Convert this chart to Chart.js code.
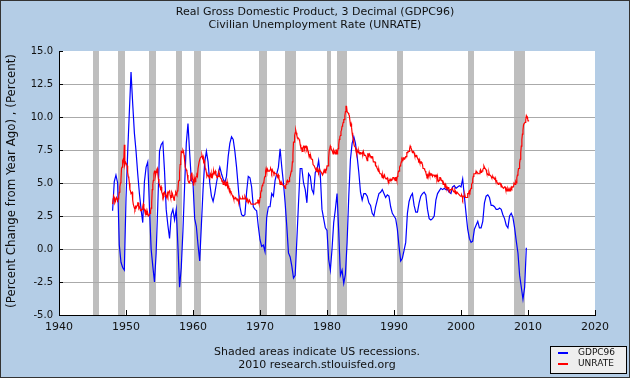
<!DOCTYPE html>
<html lang="en">
<head>
    <meta charset="UTF-8">
    <title>Real GDP and Civilian Unemployment Rate</title>
    <script src="https://cdn.jsdelivr.net/npm/chart.js"></script>
    <style>
        html, body { margin: 0; padding: 0; background: #b4cde6; }
        #wrap { width: 630px; height: 378px; }
    </style>
</head>
<body>
<div id="wrap"><canvas id="chart" width="630" height="378"></canvas></div>
<script>
// GDPC96, percent change from year ago, quarterly from 1948 Q1
const gdpStart = 1948;
const gdpGrowth = [
    2.9, 5.1, 5.6, 5.0,   0.3, -1.0, -1.4, -1.6,   3.8, 7.3, 10.4, 13.4,   11.0, 8.8, 7.4, 5.7,
    4.2, 3.0, 2.0, 5.1,   6.2, 6.6, 3.2, 0.0,   -1.3, -2.5, -0.3, 3.4,   7.4, 7.9, 8.1, 5.9,
    3.0, 1.8, 0.8, 2.6,   3.0, 2.2, 3.0, 0.2,   -2.9, -1.4, 1.4, 4.8,   8.0, 9.5, 7.3, 5.2,
    5.0, 2.3, 1.7, 0.3,   -0.9, 1.8, 4.5, 6.6,   7.4, 6.6, 5.0, 4.0,   3.6, 4.2, 5.0, 5.7,
    6.2, 5.7, 5.3, 5.0,   5.5, 7.0, 8.0, 8.5,   8.3, 7.4, 6.2, 4.7,   3.2, 2.6, 2.5, 2.6,
    4.3, 5.5, 5.4, 4.7,   3.2, 3.0, 2.9, 1.7,   0.7, 0.2, 0.3, -0.2,   2.4, 3.2, 3.2, 4.2,
    4.0, 5.2, 5.7, 6.2,   7.6, 6.2, 5.0, 3.5,   1.7, -0.3, -0.6, -1.3,   -2.2, -2.0, 0.7, 3.5,
    6.1, 6.1, 5.0, 4.5,   3.5, 5.7, 5.5, 4.5,   4.2, 5.8, 6.0, 6.7,   5.6, 3.0, 2.3, 1.6,
    1.4, -0.8, -1.6, 0.0,   2.0, 3.0, 4.2, 1.3,   -2.0, -1.6, -2.6, -1.9,   0.5, 4.0, 6.8, 8.0,
    8.5, 8.0, 7.0, 5.8,   4.3, 3.7, 4.2, 4.2,   4.0, 3.5, 3.3, 2.7,   2.5, 3.2, 3.7, 4.2,
    4.3, 4.5, 4.2, 3.9,   4.1, 4.0, 3.2, 2.7,   2.5, 2.3, 1.5, 0.2,   -0.9, -0.7, -0.1, 0.5,
    2.7, 3.6, 4.0, 4.2,   3.3, 2.8, 2.8, 3.5,   4.0, 4.2, 4.3, 4.1,   3.0, 2.3, 2.2, 2.3,
    2.5, 3.7, 4.2, 4.4,   4.6, 4.5, 4.6, 4.5,   4.5, 4.3, 4.2, 4.7,   4.8, 4.6, 4.7, 4.8,
    4.7, 5.3, 4.0, 2.7,   1.5, 0.8, 0.5, 0.6,   1.5, 1.8, 2.1, 1.6,   1.6, 2.1, 3.5, 4.0,
    4.1, 3.9, 3.3, 3.3,   3.2, 3.0, 3.0, 3.1,   3.0, 2.6, 2.3, 1.8,   1.6, 2.5, 2.7, 2.4,
    1.6, 0.6, -0.3, -2.0,   -2.9, -3.8, -2.9, 0.1
];

// UNRATE, percent, monthly from January 1948
const unrateStart = 1948;
const unrate = [
    3.4, 3.8, 4.0, 3.9, 3.5, 3.6, 3.6, 3.9, 3.8, 3.7, 3.8, 4.0,
    4.3, 4.7, 5.0, 5.3, 6.1, 6.2, 6.7, 6.8, 6.6, 7.9, 6.4, 6.6,
    6.5, 6.4, 6.3, 5.8, 5.5, 5.4, 5.0, 4.5, 4.4, 4.2, 4.2, 4.3,
    3.7, 3.4, 3.4, 3.1, 3.0, 3.2, 3.1, 3.1, 3.3, 3.5, 3.5, 3.1,
    3.2, 3.1, 2.9, 2.9, 3.0, 3.0, 3.2, 3.4, 3.1, 3.0, 2.8, 2.7,
    2.9, 2.6, 2.6, 2.7, 2.5, 2.5, 2.6, 2.7, 2.9, 3.1, 3.5, 4.5,
    4.9, 5.2, 5.7, 5.9, 5.9, 5.6, 5.8, 6.0, 6.1, 5.7, 5.3, 5.0,
    4.9, 4.7, 4.6, 4.7, 4.3, 4.2, 4.0, 4.2, 4.1, 4.3, 4.2, 4.2,
    4.0, 3.9, 4.2, 4.0, 4.3, 4.3, 4.4, 4.1, 3.9, 3.9, 4.3, 4.2,
    4.2, 3.9, 3.7, 3.9, 4.1, 4.3, 4.2, 4.1, 4.4, 4.5, 5.1, 5.2,
    5.8, 6.4, 6.7, 7.4, 7.4, 7.3, 7.5, 7.4, 7.1, 6.7, 6.2, 6.2,
    6.0, 5.9, 5.6, 5.2, 5.1, 5.0, 5.1, 5.2, 5.5, 5.7, 5.8, 5.3,
    5.2, 4.8, 5.4, 5.2, 5.1, 5.4, 5.5, 5.6, 5.5, 6.1, 6.1, 6.6,
    6.6, 6.9, 6.9, 7.0, 7.1, 6.9, 7.0, 6.6, 6.7, 6.5, 6.1, 6.0,
    5.8, 5.5, 5.6, 5.6, 5.5, 5.5, 5.4, 5.7, 5.6, 5.4, 5.7, 5.5,
    5.7, 5.9, 5.7, 5.7, 5.9, 5.6, 5.6, 5.4, 5.5, 5.5, 5.7, 5.5,
    5.6, 5.4, 5.4, 5.3, 5.1, 5.2, 4.9, 5.0, 5.1, 5.1, 4.8, 5.0,
    4.9, 5.1, 4.7, 4.8, 4.6, 4.6, 4.4, 4.4, 4.3, 4.2, 4.1, 4.0,
    4.0, 3.8, 3.8, 3.8, 3.9, 3.8, 3.8, 3.8, 3.7, 3.7, 3.6, 3.8,
    3.9, 3.8, 3.8, 3.8, 3.8, 3.9, 3.8, 3.8, 3.8, 4.0, 3.9, 3.8,
    3.7, 3.8, 3.7, 3.5, 3.5, 3.7, 3.7, 3.5, 3.4, 3.4, 3.4, 3.4,
    3.4, 3.4, 3.4, 3.4, 3.4, 3.5, 3.5, 3.5, 3.7, 3.7, 3.5, 3.5,
    3.9, 4.2, 4.4, 4.6, 4.8, 4.9, 5.0, 5.1, 5.4, 5.5, 5.9, 6.1,
    5.9, 5.9, 6.0, 5.9, 5.9, 5.9, 6.0, 6.1, 6.0, 5.8, 6.0, 6.0,
    5.8, 5.7, 5.8, 5.7, 5.7, 5.7, 5.6, 5.6, 5.5, 5.6, 5.3, 5.2,
    4.9, 5.0, 4.9, 5.0, 4.9, 4.9, 4.8, 4.8, 4.8, 4.6, 4.8, 4.9,
    5.1, 5.2, 5.1, 5.1, 5.1, 5.4, 5.5, 5.5, 5.9, 6.0, 6.6, 7.2,
    8.1, 8.1, 8.6, 8.8, 9.0, 8.8, 8.6, 8.4, 8.4, 8.4, 8.3, 8.2,
    7.9, 7.7, 7.6, 7.7, 7.4, 7.6, 7.8, 7.8, 7.6, 7.7, 7.8, 7.8,
    7.5, 7.6, 7.4, 7.2, 7.0, 7.2, 6.9, 7.0, 6.8, 6.8, 6.8, 6.4,
    6.4, 6.3, 6.3, 6.1, 6.0, 5.9, 6.2, 5.9, 6.0, 5.8, 5.9, 6.0,
    5.9, 5.9, 5.8, 5.8, 5.6, 5.7, 5.7, 6.0, 5.9, 6.0, 5.9, 6.0,
    6.3, 6.3, 6.3, 6.9, 7.5, 7.6, 7.8, 7.7, 7.5, 7.5, 7.5, 7.2,
    7.5, 7.4, 7.4, 7.2, 7.5, 7.5, 7.2, 7.4, 7.6, 7.9, 8.3, 8.5,
    8.6, 8.9, 9.0, 9.3, 9.4, 9.6, 9.8, 9.8, 10.1, 10.4, 10.8, 10.8,
    10.4, 10.4, 10.3, 10.2, 10.1, 10.1, 9.4, 9.5, 9.2, 8.8, 8.5, 8.3,
    8.0, 7.8, 7.8, 7.7, 7.4, 7.2, 7.5, 7.5, 7.3, 7.4, 7.2, 7.3,
    7.3, 7.2, 7.2, 7.3, 7.2, 7.4, 7.4, 7.1, 7.1, 7.1, 7.0, 7.0,
    6.7, 7.2, 7.2, 7.1, 7.2, 7.2, 7.0, 6.9, 7.0, 7.0, 6.9, 6.6,
    6.6, 6.6, 6.6, 6.3, 6.3, 6.2, 6.1, 6.0, 5.9, 6.0, 5.8, 5.7,
    5.7, 5.7, 5.7, 5.4, 5.6, 5.4, 5.4, 5.6, 5.4, 5.4, 5.3, 5.3,
    5.4, 5.2, 5.0, 5.2, 5.2, 5.3, 5.2, 5.2, 5.3, 5.3, 5.4, 5.4,
    5.4, 5.3, 5.2, 5.4, 5.4, 5.2, 5.5, 5.7, 5.9, 5.9, 6.2, 6.3,
    6.4, 6.6, 6.8, 6.7, 6.9, 6.9, 6.8, 6.9, 6.9, 7.0, 7.0, 7.3,
    7.3, 7.4, 7.4, 7.4, 7.6, 7.8, 7.7, 7.6, 7.6, 7.3, 7.4, 7.4,
    7.3, 7.1, 7.0, 7.1, 7.1, 7.0, 6.9, 6.8, 6.7, 6.8, 6.6, 6.5,
    6.6, 6.6, 6.5, 6.4, 6.1, 6.1, 6.1, 6.0, 5.9, 5.8, 5.6, 5.5,
    5.6, 5.4, 5.4, 5.8, 5.6, 5.6, 5.7, 5.7, 5.6, 5.5, 5.6, 5.6,
    5.6, 5.5, 5.5, 5.6, 5.6, 5.3, 5.5, 5.1, 5.2, 5.2, 5.4, 5.4,
    5.3, 5.2, 5.2, 5.1, 4.9, 5.0, 4.9, 4.8, 4.9, 4.7, 4.6, 4.7,
    4.6, 4.6, 4.7, 4.3, 4.4, 4.5, 4.5, 4.5, 4.6, 4.5, 4.4, 4.4,
    4.3, 4.4, 4.2, 4.3, 4.2, 4.3, 4.3, 4.2, 4.2, 4.1, 4.1, 4.0,
    4.0, 4.1, 4.0, 3.8, 4.0, 4.0, 4.0, 4.1, 3.9, 3.9, 3.9, 3.9,
    4.2, 4.2, 4.3, 4.4, 4.3, 4.5, 4.6, 4.9, 5.0, 5.3, 5.5, 5.7,
    5.7, 5.7, 5.7, 5.9, 5.8, 5.8, 5.8, 5.7, 5.7, 5.7, 5.9, 6.0,
    5.8, 5.9, 5.9, 6.0, 6.1, 6.3, 6.2, 6.1, 6.1, 6.0, 5.8, 5.7,
    5.7, 5.6, 5.8, 5.6, 5.6, 5.6, 5.5, 5.4, 5.4, 5.5, 5.4, 5.4,
    5.3, 5.4, 5.2, 5.2, 5.1, 5.0, 5.0, 4.9, 5.0, 5.0, 5.0, 4.9,
    4.7, 4.8, 4.7, 4.7, 4.6, 4.6, 4.7, 4.7, 4.5, 4.4, 4.5, 4.4,
    4.6, 4.5, 4.4, 4.5, 4.4, 4.6, 4.7, 4.6, 4.7, 4.7, 4.7, 5.0,
    5.0, 4.9, 5.1, 5.0, 5.4, 5.6, 5.8, 6.1, 6.1, 6.5, 6.8, 7.3,
    7.8, 8.3, 8.7, 9.0, 9.4, 9.5, 9.5, 9.6, 9.8, 10.1, 10.0, 10.0,
    9.7, 9.7, 9.7
];

// NBER recessions: [peak year, peak month, trough year, trough month]
const recessions = [
    [1945, 2, 1945, 10], [1948, 11, 1949, 10], [1953, 7, 1954, 5], [1957, 8, 1958, 4],
    [1960, 4, 1961, 2], [1969, 12, 1970, 11], [1973, 11, 1975, 3], [1980, 1, 1980, 7],
    [1981, 7, 1982, 11], [1990, 7, 1991, 3], [2001, 3, 2001, 11], [2007, 12, 2009, 6]
];

const xMin = 1940, xMax = 2020, xStep = 10;
const yMin = -5, yMax = 15, yStep = 2.5;

const titleLines = ['Real Gross Domestic Product, 3 Decimal (GDPC96)', 'Civilian Unemployment Rate (UNRATE)'];
const yAxisTitle = '(Percent Change from Year Ago) , (Percent)';
const footerLines = ['Shaded areas indicate US recessions.', '2010 research.stlouisfed.org'];
const seriesNames = ['GDPC96', 'UNRATE'];

const FONT = '"DejaVu Sans", Verdana, sans-serif';

const gdpPoints = gdpGrowth.map((v, i) => ({ x: gdpStart + i / 4, y: v }));
const unratePoints = unrate.map((v, i) => ({ x: unrateStart + i / 12, y: v }));

// background, plot area and recession bars, drawn under the grid
const backdrop = {
    id: 'backdrop',
    beforeDraw(chart) {
        const { ctx, chartArea: a, scales } = chart;
        ctx.save();
        ctx.fillStyle = '#b4cde6';
        ctx.fillRect(0, 0, chart.width, chart.height);
        ctx.fillStyle = '#ffffff';
        ctx.fillRect(a.left, a.top, a.right - a.left, a.bottom - a.top);
        ctx.fillStyle = '#bebebe';
        recessions.forEach(r => {
            const s = r[0] + (r[1] - 1) / 12;
            const e = r[2] + r[3] / 12;
            const x1 = Math.floor(scales.x.getPixelForValue(s));
            const x2 = Math.ceil(scales.x.getPixelForValue(e));
            ctx.fillRect(x1, a.top, x2 - x1, a.bottom - a.top);
        });
        ctx.restore();
    }
};

// inward tick marks, texts, legend and frame
const decorations = {
    id: 'decorations',
    afterDraw(chart) {
        const { ctx, chartArea: a, scales } = chart;
        ctx.save();
        ctx.strokeStyle = '#000';
        ctx.lineWidth = 1;
        ctx.beginPath();
        scales.y.ticks.forEach(t => {
            const y = Math.round(scales.y.getPixelForValue(t.value)) + 0.5;
            ctx.moveTo(a.left, y);
            ctx.lineTo(a.left + 4, y);
        });
        scales.x.ticks.forEach(t => {
            const x = Math.round(scales.x.getPixelForValue(t.value)) + 0.5;
            ctx.moveTo(x, a.bottom);
            ctx.lineTo(x, a.bottom - 5);
        });
        ctx.stroke();

        ctx.fillStyle = '#111';
        ctx.textAlign = 'center';
        ctx.textBaseline = 'middle';
        ctx.font = '11px ' + FONT;
        ctx.fillText(titleLines[0], 315, 12);
        ctx.fillText(titleLines[1], 315, 25);

        ctx.font = '11px ' + FONT;
        ctx.fillText(footerLines[0], 317, 352);
        ctx.fillText(footerLines[1], 317, 365);

        ctx.save();
        ctx.translate(12, 181);
        ctx.rotate(-Math.PI / 2);
        ctx.font = '11.8px ' + FONT;
        ctx.fillText(yAxisTitle, 0, 0);
        ctx.restore();

        // legend box
        ctx.fillStyle = '#eeeeee';
        ctx.fillRect(550.5, 346.5, 76, 27);
        ctx.strokeStyle = '#000';
        ctx.strokeRect(550.5, 346.5, 76, 27);
        const colors = ['#0000ff', '#ff0000'];
        ctx.textAlign = 'left';
        ctx.font = '9px ' + FONT;
        seriesNames.forEach((name, i) => {
            const y = 353 + i * 11;
            ctx.strokeStyle = colors[i];
            ctx.lineWidth = 2;
            ctx.beginPath();
            ctx.moveTo(558, y);
            ctx.lineTo(568, y);
            ctx.stroke();
            ctx.fillStyle = '#111';
            ctx.fillText(name, 578, y);
        });

        ctx.strokeStyle = '#333';
        ctx.lineWidth = 1;
        ctx.strokeRect(0.5, 0.5, chart.width - 1, chart.height - 1);
        ctx.restore();
    }
};

new Chart(document.getElementById('chart'), {
    type: 'line',
    data: {
        datasets: [
            { label: seriesNames[0], data: gdpPoints, borderColor: '#0000ff', borderWidth: 1.2, pointRadius: 0, tension: 0, order: 2 },
            { label: seriesNames[1], data: unratePoints, borderColor: '#ff0000', borderWidth: 1.2, pointRadius: 0, tension: 0, order: 1 }
        ]
    },
    options: {
        responsive: false,
        animation: false,
        devicePixelRatio: 1,
        layout: { padding: { top: 51, right: 35, left: 0, bottom: 0 } },
        plugins: { legend: { display: false }, tooltip: { enabled: false } },
        scales: {
            x: {
                type: 'linear',
                min: xMin,
                max: xMax,
                afterFit: s => { s.height = 63; },
                grid: { display: false, drawTicks: false },
                border: { display: true, color: '#000', width: 1 },
                ticks: { stepSize: xStep, padding: 6, color: '#111', font: { family: FONT, size: 11 }, callback: v => String(v) }
            },
            y: {
                min: yMin,
                max: yMax,
                afterFit: s => { s.width = 59; },
                grid: { color: c => c.tick && c.tick.value === yMax ? 'rgba(0,0,0,0)' : '#aaaaaa', drawTicks: false, lineWidth: 1 },
                border: { display: true, color: '#000', width: 1 },
                ticks: { stepSize: yStep, padding: 6, color: '#111', font: { family: FONT, size: 10 }, callback: v => v.toFixed(1) }
            }
        }
    },
    plugins: [backdrop, decorations]
});
</script>
</body>
</html>
